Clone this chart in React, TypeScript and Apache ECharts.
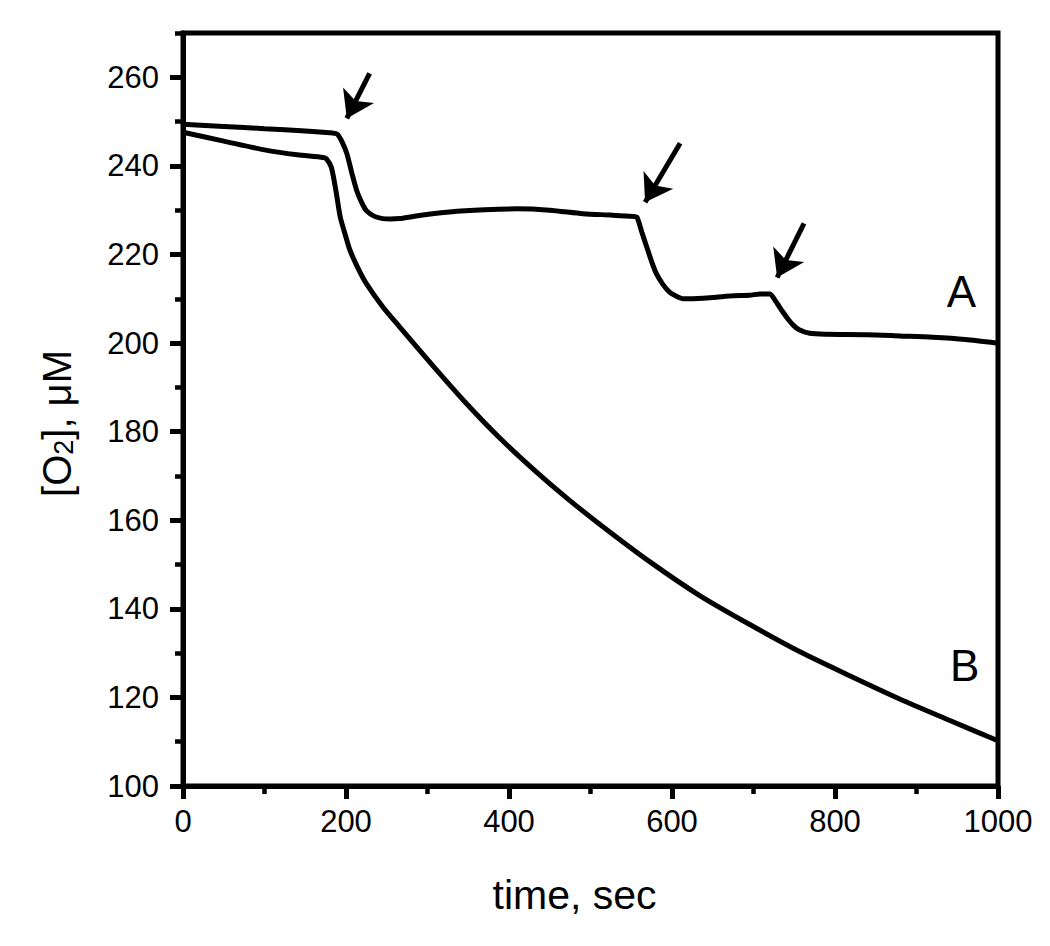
import React, { useEffect, useRef } from "react";
import * as echarts from "echarts";

// Trace A: time (s) and [O2] (µM)
const timeA = [0, 50, 100, 150, 184, 189, 195, 201, 207, 213, 219, 225, 235, 245, 254, 266, 290, 327, 370, 409, 450, 491, 525, 552, 557, 563, 569, 575, 581, 589, 597, 605, 614, 622, 650, 675, 695, 708, 720, 727, 735, 742, 749, 756, 769, 790, 839, 880, 920, 960, 998];
const valA = [249.4, 248.9, 248.4, 247.9, 247.4, 247.2, 245.5, 242.8, 238.5, 234.5, 231.8, 229.9, 228.6, 228.1, 228.0, 228.1, 228.8, 229.6, 230.1, 230.3, 230.0, 229.2, 228.9, 228.6, 228.4, 225.0, 221.7, 218.4, 215.6, 213.2, 211.5, 210.6, 210.0, 210.0, 210.3, 210.7, 210.8, 211.1, 211.1, 209.5, 207.3, 205.5, 204.0, 203.0, 202.2, 202.0, 201.9, 201.6, 201.3, 200.8, 200.0];

// Trace B
const timeB = [0, 50, 103, 140, 172, 176, 182, 188, 193, 199, 205, 215, 225, 245, 266, 307, 348, 389, 430, 471, 512, 573, 634, 696, 757, 818, 880, 941, 1000];
const valB = [247.6, 245.6, 243.5, 242.5, 241.9, 241.6, 239.7, 234.0, 228.4, 224.5, 220.9, 216.8, 213.4, 208.2, 203.6, 194.8, 186.3, 178.5, 171.5, 165.0, 159.0, 150.6, 143.0, 136.4, 130.3, 124.9, 119.6, 114.8, 110.2];

// Axis ticks
const xMajor = [0, 200, 400, 600, 800, 1000];
const yMajor = [100, 120, 140, 160, 180, 200, 220, 240, 260];
const yMinor = [110, 130, 150, 170, 190, 210, 230, 250, 270];

// Arrow annotations: [tailX, tailY, tipX, tipY] in data units
const arrows = [
  [229, 260.9, 201, 250.7],
  [610, 245.1, 567, 231.8],
  [762, 227.0, 729, 214.8],
];
// Curve labels
const curveLabels = [
  { text: "A", x: 955, y: 211.6 },
  { text: "B", x: 959, y: 127.1 },
];

const FONT = "Liberation Sans, Arial, Helvetica, sans-serif";

export default function App() {
  const ref = useRef<HTMLDivElement>(null);
  useEffect(() => {
    if (!ref.current) return;
    const chart = echarts.init(ref.current, null, { renderer: "svg" });
    const pairs = (xs: number[], ys: number[]) => xs.map((x, i) => [x, ys[i]]);
    const line = { color: "#000", width: 5 };
    chart.setOption({
      animation: false,
      backgroundColor: "#fff",
      grid: {
        left: 183,
        right: 52,
        top: 33,
        bottom: 160,
        show: true,
        borderColor: "#000",
        borderWidth: 5,
      },
      xAxis: {
        type: "value",
        min: 0,
        max: 1000,
        interval: 200,
        name: "time, sec",
        nameLocation: "middle",
        nameGap: 88,
        nameTextStyle: { fontFamily: FONT, fontSize: 41, color: "#000", padding: [0, 32, 0, 0] },
        axisLine: { show: true, lineStyle: { color: "#000", width: 5 } },
        axisTick: { show: true, inside: false, length: 13, lineStyle: { color: "#000", width: 5 } },
        minorTick: { show: true, splitNumber: 2, length: 8, lineStyle: { color: "#000", width: 4.5 } },
        axisLabel: {
          customValues: xMajor,
          margin: 20,
          fontFamily: FONT,
          fontSize: 31,
          color: "#000",
          formatter: (v: number) => String(v),
        },
        splitLine: { show: false },
      },
      yAxis: [
        {
          type: "value",
          min: 100,
          max: 270,
          position: "left",
          name: "{a|[O}{s|2}{a|], μM}",
          nameLocation: "middle",
          nameRotate: 90,
          nameGap: 106,
          nameTextStyle: {
            fontFamily: FONT,
            fontSize: 40,
            color: "#000",
            padding: [0, 28, 0, 0],
            rich: {
              a: { fontFamily: FONT, fontSize: 40, color: "#000", verticalAlign: "top", lineHeight: 40 },
              s: { fontFamily: FONT, fontSize: 27, color: "#000", verticalAlign: "bottom", lineHeight: 27, padding: [22, 0, 0, 0] },
            },
          },
          axisLine: { show: true, lineStyle: { color: "#000", width: 5 } },
          axisTick: { show: true, customValues: yMajor, inside: false, length: 13, lineStyle: { color: "#000", width: 5 } },
          axisLabel: { customValues: yMajor, margin: 24, fontFamily: FONT, fontSize: 31, color: "#000" },
          splitLine: { show: false },
        },
        {
          type: "value",
          min: 100,
          max: 270,
          position: "left",
          axisLine: { show: false },
          axisTick: { show: true, customValues: yMinor, inside: false, length: 8, lineStyle: { color: "#000", width: 4.5 } },
          axisLabel: { show: false },
          splitLine: { show: false },
        },
      ],
      series: [
        {
          type: "line",
          name: "A",
          data: pairs(timeA, valA),
          showSymbol: false,
          smooth: 0.25,
          lineStyle: line,
          silent: true,
          markLine: {
            silent: true,
            symbol: ["none", "arrow"],
            symbolSize: 26,
            label: { show: false },
            lineStyle: { color: "#000", width: 5, type: "solid" },
            data: arrows.map((a) => [{ coord: [a[0], a[1]] }, { coord: [a[2], a[3]] }]),
          },
          markPoint: {
            silent: true,
            symbol: "circle",
            symbolSize: 0,
            label: {
              show: true,
              position: "inside",
              fontFamily: FONT,
              fontSize: 44,
              color: "#000",
              formatter: (p: any) => p.name,
            },
            data: curveLabels.map((l) => ({ name: l.text, coord: [l.x, l.y] })),
          },
        },
        {
          type: "line",
          name: "B",
          data: pairs(timeB, valB),
          showSymbol: false,
          smooth: 0.25,
          lineStyle: line,
          silent: true,
        },
      ],
    });
    return () => chart.dispose();
  }, []);
  return (
    <div
      ref={ref}
      style={{ position: "fixed", left: 0, top: 0, width: 1050, height: 946 }}
    />
  );
}
